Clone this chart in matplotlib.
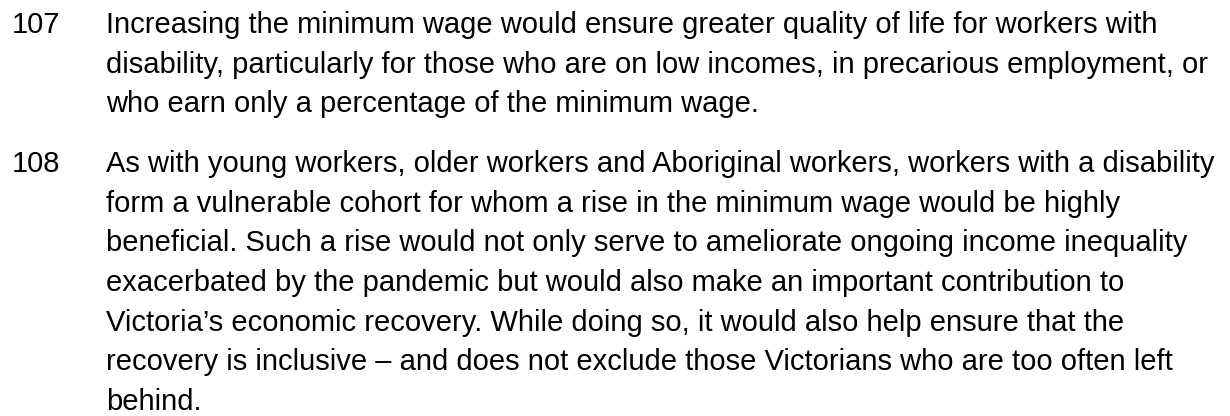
import matplotlib
matplotlib.use("Agg")
import matplotlib.pyplot as plt

# paragraph numbers and their wrapped lines, as in the source document
para_numbers = ["107", "108"]
para_107 = [
    "Increasing the minimum wage would ensure greater quality of life for workers with",
    "disability, particularly for those who are on low incomes, in precarious employment, or",
    "who earn only a percentage of the minimum wage.",
]
para_108 = [
    "As with young workers, older workers and Aboriginal workers, workers with a disability",
    "form a vulnerable cohort for whom a rise in the minimum wage would be highly",
    "beneficial. Such a rise would not only serve to ameliorate ongoing income inequality",
    "exacerbated by the pandemic but would also make an important contribution to",
    "Victoria\u2019s economic recovery. While doing so, it would also help ensure that the",
    "recovery is inclusive \u2013 and does not exclude those Victorians who are too often left",
    "behind.",
]
paragraphs = [para_107, para_108]

W, H = 1230, 416
fig = plt.figure(figsize=(W / 100, H / 100), dpi=100)
fig.patch.set_facecolor("white")

font = dict(family=["Liberation Sans", "DejaVu Sans"], size=21, color="#000000")

num_x = 12      # px from left
text_x = 106
line_gap = 39.6  # px between baselines
para_gap = 60

y = 33  # first baseline, px from top
for num, lines in zip(para_numbers, paragraphs):
    fig.text(num_x / W, 1 - y / H, num, va="baseline", ha="left", **font)
    for i, line in enumerate(lines):
        fig.text(text_x / W, 1 - (y + i * line_gap) / H, line,
                 va="baseline", ha="left", **font)
    y += (len(lines) - 1) * line_gap + para_gap

fig.savefig("out.png", dpi=100)
